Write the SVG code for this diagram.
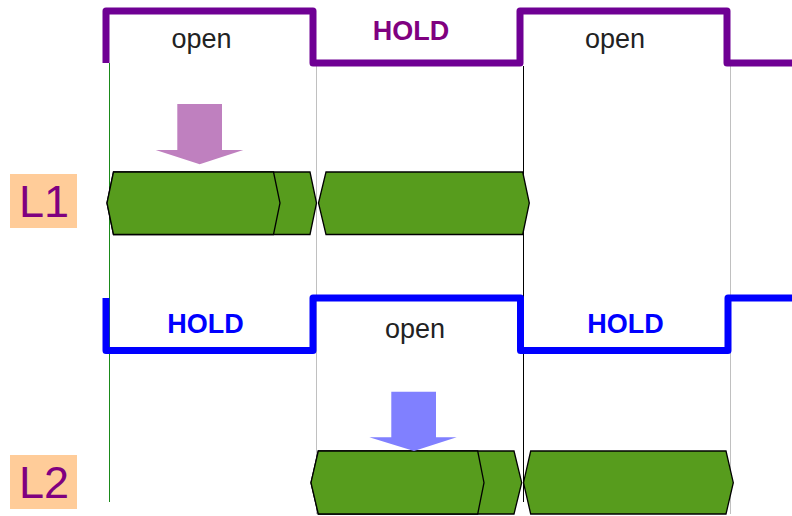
<svg xmlns="http://www.w3.org/2000/svg" width="792" height="516" viewBox="0 0 792 516">
<style>
.wave{fill:none;stroke-width:7;stroke-linejoin:round;stroke-linecap:butt}
.lbl{font-family:"Liberation Sans",Arial,sans-serif;font-size:27px;text-anchor:middle}
.bold{font-weight:bold}
.seg{fill:#579c1d;stroke:#000;stroke-width:1.3;stroke-linejoin:miter}
.lane{fill:#ffcc99}
.lanet{font-family:"Liberation Sans",Arial,sans-serif;font-size:45px;fill:#800080}
</style>
<rect width="792" height="516" fill="#fff"/>
<g id="gridlines">
<line x1="109.5" y1="63" x2="109.5" y2="502" stroke="#1a8a1a" stroke-width="1"/>
<line x1="316.5" y1="66" x2="316.5" y2="514" stroke="#c0c0c0" stroke-width="1"/>
<line x1="523.5" y1="66" x2="523.5" y2="502" stroke="#000" stroke-width="1"/>
<line x1="730.5" y1="66" x2="730.5" y2="514" stroke="#c0c0c0" stroke-width="1"/>
</g>
<g id="wave-L1">
<path class="wave" stroke="#6f0094" d="M106,63 V11 H313 V63 H520 V11 H727 V63 H792"/>
<text class="lbl" x="201.5" y="48" fill="#222">open</text>
<text class="lbl bold" x="411" y="40" fill="#800080">HOLD</text>
<text class="lbl" x="615" y="48" fill="#222">open</text>
</g>
<g id="wave-L2">
<path class="wave" stroke="#0000ff" d="M106,298 V350.5 H313 V298 H520.5 V350.5 H728 V298 H792"/>
<text class="lbl bold" x="205.5" y="333" fill="#0000ff">HOLD</text>
<text class="lbl" x="415" y="338" fill="#222">open</text>
<text class="lbl bold" x="625.5" y="333" fill="#0000ff">HOLD</text>
</g>
<g id="label-L1">
<rect class="lane" x="10" y="174" width="67" height="54"/>
<text class="lanet" x="19" y="217">L1</text>
</g>
<g id="label-L2">
<rect class="lane" x="10" y="455" width="67" height="54"/>
<text class="lanet" x="19" y="498">L2</text>
</g>
<g id="L1-seg1">
<polygon class="seg" points="113.5,172 310,172 316.5,203 310,234.5 113.5,234.5 107,203"/>
<polygon class="seg" points="113.5,172 273.5,172 280,203 273.5,234.5 113.5,234.5 107,203"/>
</g>
<g id="L1-seg2">
<polygon class="seg" points="326,172 522.7,172 529.3,203 522.7,234.5 326,234.5 318.5,203"/>
</g>
<g id="L2-seg1">
<polygon class="seg" points="318.3,451 514,451 521.7,482.7 514,514 318.3,514 311,482.7"/>
<polygon class="seg" points="318.3,451 477.7,451 484,482.7 477.7,514 318.3,514 311,482.7"/>
</g>
<g id="L2-seg2">
<polygon class="seg" points="530.7,451 726,451 733.3,482.7 726,514 530.7,514 523.5,482.7"/>
</g>
<g id="arrows">
<polygon id="arrow-L1" fill="#bf80bf" points="177.3,104 222,104 222,150 243.3,150 199.7,164.3 155.7,150 177.3,150"/>
<polygon id="arrow-L2" fill="#8080ff" points="391.3,391.7 436,391.7 436,437.3 456.7,437.3 414,451 369.3,437.3 391.3,437.3"/>
</g>
</svg>
